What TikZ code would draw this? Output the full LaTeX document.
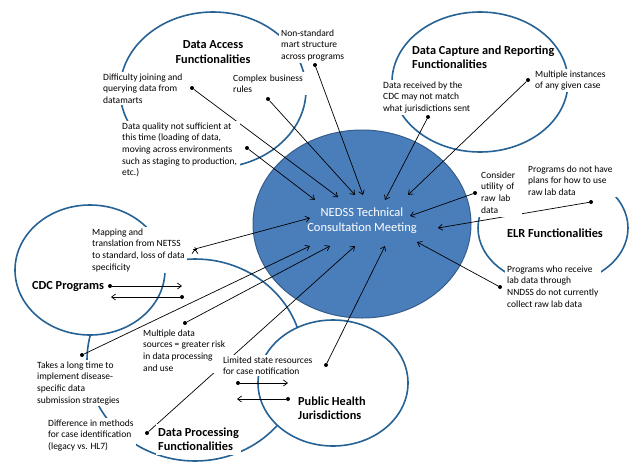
\documentclass[tikz,border=0pt]{standalone}
\usepackage{fontspec}
\setmainfont{Carlito}
\usetikzlibrary{shapes.geometric,arrows.meta}
\definecolor{ringblue}{RGB}{38,98,148}
\definecolor{hubfill}{RGB}{74,126,187}
\definecolor{hubline}{RGB}{52,92,140}

\begin{document}
\begin{tikzpicture}[x=1pt,y=-1pt]
        \tikzstyle{ring}=[ellipse,draw=ringblue,line width=1.6pt,fill=white,inner sep=0pt]
        \tikzstyle{hub}=[ellipse,draw=hubline,line width=1pt,fill=hubfill,text=white,align=center,inner sep=0pt,text depth=9pt,font=\fontsize{12.5}{15}\selectfont]
        \tikzstyle{note}=[anchor=north west,align=left,fill=white,inner xsep=2.5pt,inner ysep=1.5pt,font=\fontsize{9.5}{11.6}\selectfont]
        \tikzstyle{title}=[align=left,inner xsep=2.5pt,inner ysep=1.5pt,font=\fontsize{12.3}{14.6}\selectfont\bfseries]
        \tikzstyle{dot}=[circle,fill=black,inner sep=0pt,minimum size=4pt]
        \tikzstyle{link}=[draw,line width=0.7pt,-{Straight Barb[length=4pt,width=6pt]}]

        \path[use as bounding box,fill=white] (0,0) rectangle (629,461);

        % the groups
        \node [ring,minimum width=186pt,minimum height=156pt] (access) at (213,90) {};
        \node [ring,minimum width=176pt,minimum height=140pt] (capture) at (480,82) {};
        \node [ring,minimum width=150pt,minimum height=114pt] (elr) at (553,228) {};
        \node [ring,minimum width=216pt,minimum height=202pt] (processing) at (195,360) {};
        \node [ring,minimum width=150pt,minimum height=130pt] (cdc) at (90,270) {};
        \node [ring,minimum width=150pt,minimum height=126pt] (jurisdictions) at (333,383) {};
        \node [hub,minimum width=218pt,minimum height=188pt] (meeting) at (362,224) {NEDSS Technical\\Consultation Meeting};

        % where the arrows end
        \coordinate (tjoin) at (338,197);
        \coordinate (tcomplex) at (355,195);
        \coordinate (tnonstd) at (363,195);
        \coordinate (tquality) at (315,200);
        \coordinate (treceived) at (385,200);
        \coordinate (tinstances) at (408,195);
        \coordinate (tconsider) at (410,216);
        \coordinate (tplans) at (438,228);
        \coordinate (treceive) at (417,242);
        \coordinate (tlimited) at (385,246);
        \coordinate (tprocessing) at (355,246);
        \coordinate (tsources) at (330,246);
        \coordinate (tlongtime) at (310,246);
        \coordinate (tmapping) at (310,218);
        \coordinate (smapping) at (195,249);

        \node [dot] (djoin) at (192,88) {};
        \node [dot] (dcomplex) at (268,99) {};
        \node [dot] (dnonstd) at (315,65) {};
        \node [dot] (dquality) at (247,148) {};
        \node [dot] (dreceived) at (428,117) {};
        \node [dot] (dinstances) at (528,80) {};
        \node [dot] (dconsider) at (475,193) {};
        \node [dot] (dplans) at (591,202) {};
        \node [dot] (dreceive) at (500,287) {};
        \node [dot] (dlimited) at (326,365) {};
        \node [dot] (dprocessing) at (147,433) {};
        \node [dot] (dsources) at (185,323) {};
        \node [dot] (dlongtime) at (82,355) {};
        \node [dot] (dcdcout) at (110,286) {};
        \node [dot] (dcdcin) at (182,297) {};
        \node [dot] (dphjout) at (238,383) {};
        \node [dot] (dphjin) at (288,399) {};
        \coordinate (tcdcout) at (182,286);
        \coordinate (tcdcin) at (111,297);
        \coordinate (tphjout) at (288,383);
        \coordinate (tphjin) at (237,399);

        \path[link] (djoin) edge (tjoin);
        \path[link] (dcomplex) edge (tcomplex);
        \path[link] (dnonstd) edge (tnonstd);
        \path[link] (dquality) edge (tquality);
        \path[link] (dreceived) edge (treceived);
        \path[link] (dinstances) edge (tinstances);
        \path[link] (dconsider) edge (tconsider);
        \path[link] (dplans) edge (tplans);
        \path[link] (dreceive) edge (treceive);
        \path[link] (dlimited) edge (tlimited);
        \path[link] (dprocessing) edge (tprocessing);
        \path[link] (dsources) edge (tsources);
        \path[link] (dlongtime) edge (tlongtime);
        \path[link,{Bar[width=4pt]}-{Straight Barb[length=4pt,width=6pt]}] (smapping) edge (tmapping);
        \path[link] (dcdcout) edge (tcdcout);
        \path[link] (dcdcin) edge (tcdcin);
        \path[link] (dphjout) edge (tphjout);
        \path[link] (dphjin) edge (tphjin);

        % the texts
        \node [title,anchor=north,align=center] (accesstitle) at (213,39) {Data Access\\Functionalities};
        \node [note] (join) at (100.5,72) {Difficulty joining and\\querying data from\\datamarts};
        \node [note,text width=74pt,inner ysep=2.5pt] (complex) at (230.5,72) {Complex business\\rules};
        \node [note] (nonstd) at (278.5,28) {Non-standard\\mart structure\\across programs};
        \node [note] (quality) at (119.5,121) {Data quality not sufficient at\\this time (loading of data,\\moving across environments\\such as staging to production,\\etc.)};

        \node [title,anchor=north west] (capturetitle) at (409.5,43.8) {Data Capture and Reporting\\Functionalities};
        \node [note] (received) at (380.5,80) {Data received by the\\CDC may not match\\what jurisdictions sent};
        \node [note] (instances) at (532.5,69) {Multiple instances\\of any given case};

        \node [note,text width=38pt,inner xsep=3pt,inner ysep=4pt] (consider) at (478,167.5) {Consider\\utility of\\raw lab\\data};
        \node [note,inner xsep=6pt] (plans) at (522,164) {Programs do not have\\plans for how to use\\raw lab data};
        \node [title] (elrtitle) at (555,233) {ELR Functionalities};
        \node [note] (receive) at (504.5,264) {Programs who receive\\lab data through\\NNDSS do not currently\\collect raw lab data};

        \node [title,anchor=west] (cdctitle) at (29.5,286.5) {CDC Programs};
        \node [note] (mapping) at (89.5,227) {Mapping and\\translation from NETSS\\to standard, loss of data\\specificity};
        \node [note] (sources) at (140.5,328) {Multiple data\\sources = greater risk\\in data processing\\and use};
        \node [note] (longtime) at (34.5,360) {Takes a long time to\\implement disease-\\specific data\\submission strategies};
        \node [note] (methods) at (45.5,418) {Difference in methods\\for case identification\\(legacy vs. HL7)};
        \node [title,anchor=north west,fill=white,inner ysep=4pt] (processingtitle) at (155.5,423.5) {Data Processing\\Functionalities};

        \node [note] (limited) at (220.5,355) {Limited state resources\\for case notification};
        \node [title,anchor=north west] (jurisdictionstitle) at (295.5,394.8) {Public Health\\Jurisdictions};
      \end{tikzpicture}
\end{document}
